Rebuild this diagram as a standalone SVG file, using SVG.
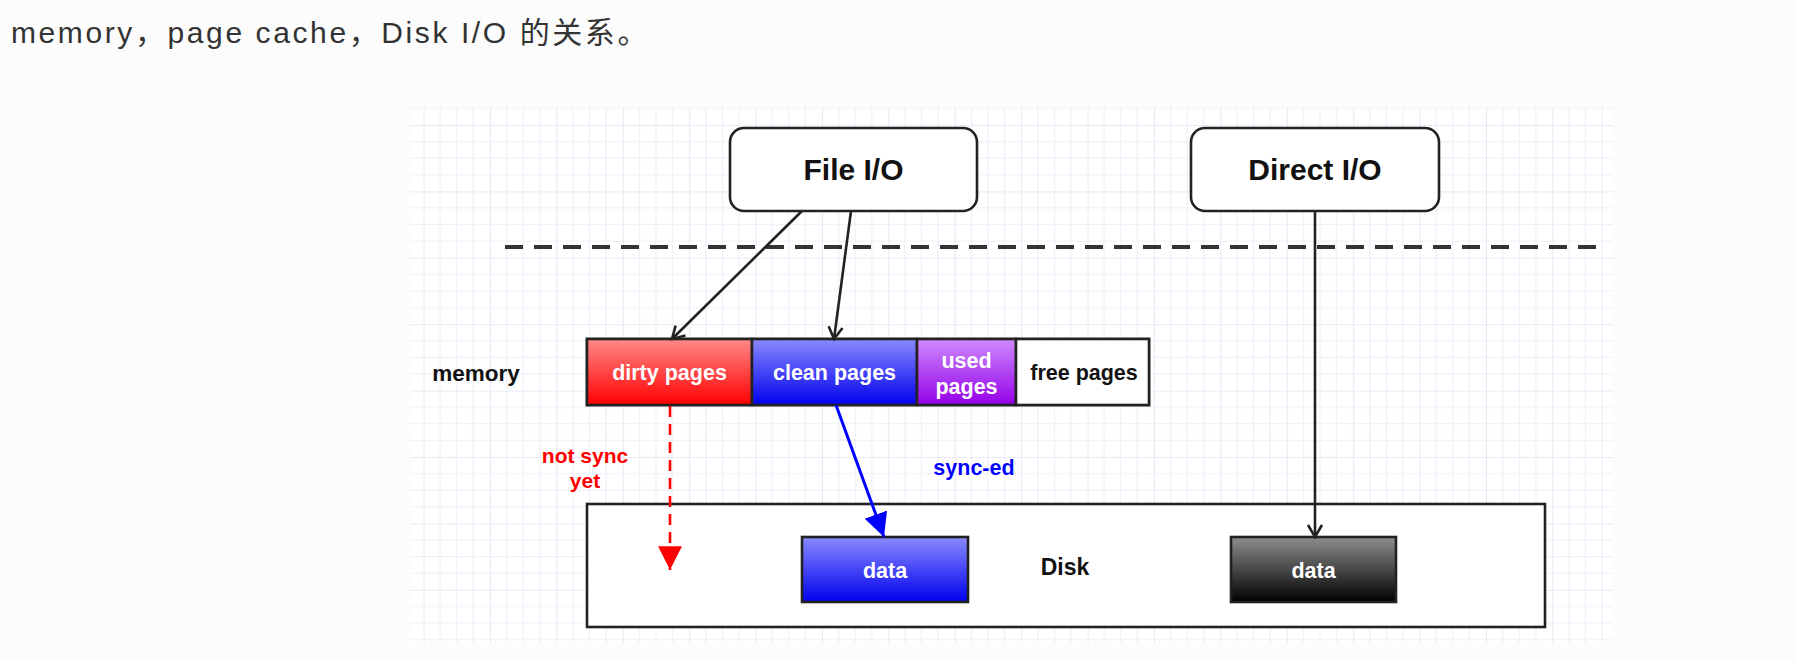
<svg xmlns="http://www.w3.org/2000/svg" width="1796" height="661" viewBox="0 0 1796 661">
<defs>
<pattern id="grid" patternUnits="userSpaceOnUse" x="423.6" y="58.6" width="66.4" height="66.4">
<path d="M16.6 0V66.4M33.2 0V66.4M49.8 0V66.4M0 16.6H66.4M0 33.2H66.4M0 49.8H66.4" stroke="#eeeefa" stroke-width="1.2" fill="none"/>
<path d="M0 0V66.4M0 0H66.4" stroke="#e3e3f3" stroke-width="1.6" fill="none"/>
</pattern>
<linearGradient id="gRed" x1="0" y1="0" x2="0" y2="1"><stop offset="0" stop-color="#ff8a8a"/><stop offset="1" stop-color="#ff0000"/></linearGradient>
<linearGradient id="gBlue" x1="0" y1="0" x2="0" y2="1"><stop offset="0" stop-color="#8a8aff"/><stop offset="1" stop-color="#0000ee"/></linearGradient>
<linearGradient id="gPurple" x1="0" y1="0" x2="0" y2="1"><stop offset="0" stop-color="#cf8aff"/><stop offset="1" stop-color="#9400e8"/></linearGradient>
<linearGradient id="gBlack" x1="0" y1="0" x2="0" y2="1"><stop offset="0" stop-color="#8e8e8e"/><stop offset="1" stop-color="#000000"/></linearGradient>
<marker id="openArrow" markerUnits="userSpaceOnUse" markerWidth="20" markerHeight="20" refX="14" refY="8" orient="auto" viewBox="0 0 20 16">
<path d="M2 1L14 8L2 15" fill="none" stroke="#222" stroke-width="2.6"/>
</marker>
<marker id="blueArrow" markerUnits="userSpaceOnUse" markerWidth="26" markerHeight="24" refX="22" refY="11" orient="auto" viewBox="0 0 24 22">
<path d="M0 0L22 11L0 22Z" fill="#0000ff"/>
</marker>
<marker id="redArrow" markerUnits="userSpaceOnUse" markerWidth="26" markerHeight="24" refX="22" refY="11" orient="auto" viewBox="0 0 24 22">
<path d="M0 0L22 11L0 22Z" fill="#ff0000"/>
</marker>
</defs>
<style>
text{font-family:"Liberation Sans",Arial,sans-serif;font-weight:bold;text-anchor:middle}
.title{font-weight:normal;text-anchor:start;fill:#333333;font-size:30px;letter-spacing:2.6px;font-family:"Liberation Sans","Noto Sans CJK SC",sans-serif}
.box{fill:#ffffff;stroke:#222222;stroke-width:2.6}
.big{font-size:30px;fill:#111111}
.lbl{font-size:21.5px;fill:#111111}
.wt{font-size:21.5px;fill:#ffffff}
.edge{fill:none;stroke:#222222;stroke-width:2.6}
</style>
<rect x="0" y="0" width="1796" height="661" fill="#fcfcfc"/>
<rect x="410" y="107" width="1203" height="536" fill="#ffffff"/>
<rect x="410" y="107" width="1203" height="536" fill="url(#grid)"/>
<text class="title" x="11" y="43">memory，page cache，Disk I/O 的关系。</text>
<line x1="505" y1="247" x2="1606" y2="247" stroke="#333333" stroke-width="4" stroke-dasharray="18 11"/>

<g id="fileio">
<rect class="box" x="730" y="128" width="247" height="83" rx="14"/>
<text class="big" x="853.5" y="180">File I/O</text>
</g>
<g id="directio">
<rect class="box" x="1191" y="128" width="248" height="83" rx="14"/>
<text class="big" x="1315" y="180">Direct I/O</text>
</g>
<g id="memory">
<text class="lbl" x="476" y="381" style="font-size:22.5px">memory</text>
<rect x="587" y="339" width="562" height="66" fill="#ffffff" stroke="#222" stroke-width="2.6"/>
</g>
<g id="dirty">
<rect x="587" y="339" width="165" height="66" fill="url(#gRed)" stroke="#222" stroke-width="2.6"/>
<text class="wt" x="669.5" y="380">dirty pages</text>
</g>
<g id="clean">
<rect x="752" y="339" width="165" height="66" fill="url(#gBlue)" stroke="#222" stroke-width="2.6"/>
<text class="wt" x="834.5" y="380">clean pages</text>
</g>
<g id="used">
<rect x="917" y="339" width="99" height="66" fill="url(#gPurple)" stroke="#222" stroke-width="2.6"/>
<text class="wt" x="966.5" y="368">used</text>
<text class="wt" x="966.5" y="394">pages</text>
</g>
<g id="free">
<rect x="1016" y="339" width="133" height="66" fill="#ffffff" stroke="#222" stroke-width="2.6"/>
<text class="lbl" x="1084" y="380">free pages</text>
</g>
<g id="disk">
<rect class="box" x="587" y="504" width="958" height="123"/>
<text class="lbl" x="1065" y="575" style="font-size:23px">Disk</text>
</g>
<g id="data1">
<rect x="802" y="537" width="166" height="65" fill="url(#gBlue)" stroke="#222" stroke-width="2.6"/>
<text class="wt" x="885" y="578">data</text>
</g>
<g id="data2">
<rect x="1231" y="537" width="165" height="65" fill="url(#gBlack)" stroke="#222" stroke-width="2.6"/>
<text class="wt" x="1313.5" y="578">data</text>
</g>
<g id="labels">
<text x="585" y="463" style="font-size:21px;fill:#ff0000">not sync</text>
<text x="585" y="488" style="font-size:21px;fill:#ff0000">yet</text>
<text x="974" y="475" style="font-size:21.5px;fill:#0000ff">sync-ed</text>
</g>
<g id="connectors">
<path class="edge" d="M802 211L672 339" marker-end="url(#openArrow)"/>
<path class="edge" d="M851 211L834 339" marker-end="url(#openArrow)"/>
<path class="edge" d="M1315 211L1315 537" marker-end="url(#openArrow)"/>
<path d="M836 405L884 537" fill="none" stroke="#0000ff" stroke-width="3" marker-end="url(#blueArrow)"/>
<path d="M670 406L670 570" fill="none" stroke="#ff0000" stroke-width="2.6" stroke-dasharray="11 7" marker-end="url(#redArrow)"/>
</g>
</svg>
